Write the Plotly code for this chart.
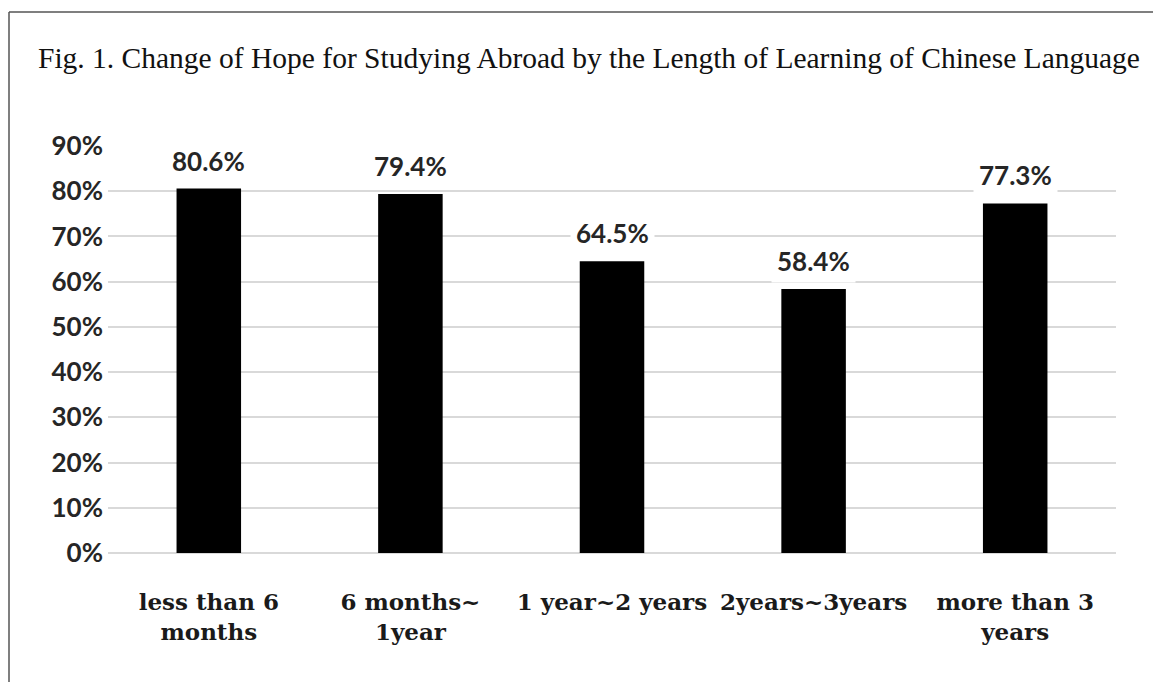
import plotly.graph_objects as go

categories = ["less than 6<br>months", "6 months~<br>1year", "1 year~2 years",
              "2years~3years", "more than 3<br>years"]
values = [80.6, 79.4, 64.5, 58.4, 77.3]
value_labels = ["80.6%", "79.4%", "64.5%", "58.4%", "77.3%"]
y_ticks = [0, 10, 20, 30, 40, 50, 60, 70, 80, 90]
y_tick_labels = ["0%", "10%", "20%", "30%", "40%", "50%", "60%", "70%", "80%", "90%"]
title_text = "Fig. 1. Change of Hope for Studying Abroad by the Length of Learning of Chinese Language"

W, H = 1153, 682
ml, mr, mt, mb = 108, 37, 146, 129
pw = W - ml - mr
ph = H - mt - mb

fig = go.Figure()
fig.add_trace(go.Bar(x=categories, y=values, marker=dict(color="#000000", line=dict(width=0)),
                     width=0.32, hoverinfo="skip"))

for c, v, t in zip(categories, values, value_labels):
    fig.add_annotation(x=c, y=v, text=t, showarrow=False, yanchor="middle", yshift=28,
                       font=dict(family="Lato", size=26, color="#262626", weight="bold"),
                       bgcolor="white", borderpad=5)

# outer frame lines (top and left)
x_left = (9 - ml) / pw
y_top = (H - mb - 12) / ph
y_bot = (H - mb - H) / ph
fig.add_shape(type="line", xref="paper", yref="paper", x0=x_left, x1=(W - ml + 5) / pw,
              y0=y_top, y1=y_top, line=dict(color="#555555", width=1.5), layer="above")
fig.add_shape(type="line", xref="paper", yref="paper", x0=x_left, x1=x_left,
              y0=y_top, y1=y_bot - 0.05, line=dict(color="#555555", width=1.5), layer="above")

fig.update_layout(
    width=W, height=H,
    margin=dict(l=ml, r=mr, t=mt, b=mb),
    paper_bgcolor="white", plot_bgcolor="white",
    showlegend=False,
    title=dict(text=title_text, xref="container", yref="container",
               x=38 / W, xanchor="left", y=1 - 58 / H, yanchor="middle",
               font=dict(family="Liberation Serif", size=29.5, color="#111111")),
    bargap=0.68,
)
fig.update_xaxes(tickangle=0, ticks="", showline=False, showgrid=False,
                 tickfont=dict(family="DejaVu Serif", size=23, color="#1a1a1a", weight="bold"),
                 ticklabelstandoff=33)
fig.update_yaxes(range=[0, 90], tickmode="array", tickvals=y_ticks, ticktext=y_tick_labels,
                 ticks="", showline=False, showgrid=True, gridcolor="#d9d9d9", gridwidth=1.5,
                 zeroline=True, zerolinecolor="#d9d9d9", zerolinewidth=1.5,
                 tickfont=dict(family="Lato", size=26, color="#262626", weight="bold"),
                 ticklabelstandoff=4)

fig.write_html("out.html")
